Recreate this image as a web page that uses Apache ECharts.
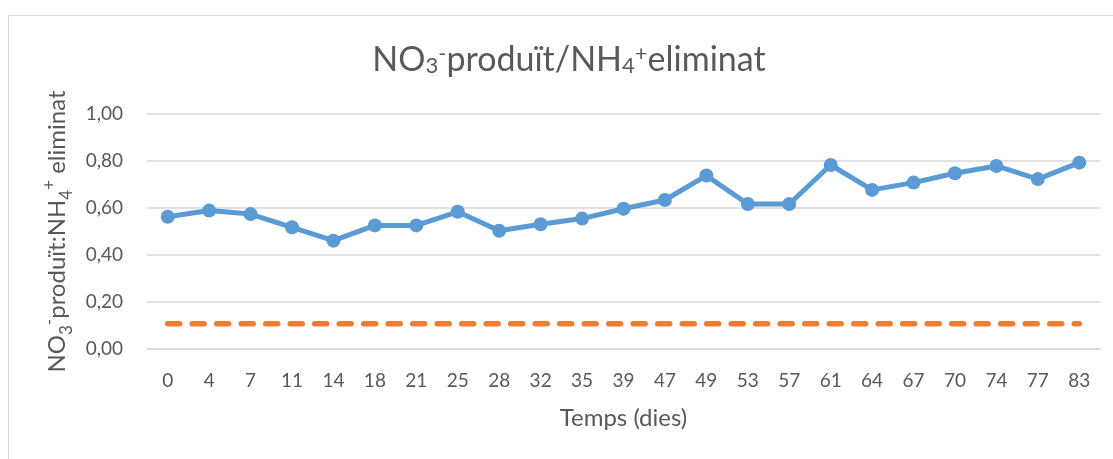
<!DOCTYPE html>
<html>
<head>
<meta charset="utf-8">
<script src="https://cdn.jsdelivr.net/npm/echarts@6/dist/echarts.min.js"></script>
<style>html,body{margin:0;padding:0;background:#fff}#c{width:1113px;height:459px}</style>
</head>
<body>
<div id="c"></div>
<script>
var days = ['0','4','7','11','14','18','21','25','28','32','35','39','47','49','53','57','61','64','67','70','74','77','83'];
var ratio = [0.563,0.589,0.574,0.518,0.461,0.526,0.526,0.584,0.503,0.531,0.555,0.597,0.634,0.738,0.617,0.617,0.783,0.677,0.708,0.748,0.779,0.723,0.793];
var reference = [0.107,0.107,0.107,0.107,0.107,0.107,0.107,0.107,0.107,0.107,0.107,0.107,0.107,0.107,0.107,0.107,0.107,0.107,0.107,0.107,0.107,0.107,0.107];
var yTicks = [0, 0.2, 0.4, 0.6, 0.8, 1.0];

var FONT = 'Lato';
var TXT = '#595959';
var chart = echarts.init(document.getElementById('c'), null, {renderer: 'canvas'});
chart.setOption({
  animation: false,
  backgroundColor: '#fff',
  graphic: [
    {type: 'rect', shape: {x: 8.5, y: 15.5, width: 1200, height: 600}, style: {fill: 'none', stroke: '#d9d9d9', lineWidth: 1}, silent: true},
    {type: 'text', x: 569, y: 60, style: {
      text: 'NO{sub|3}{sup|-}produït/NH{sub|4}{sup|+}eliminat',
      align: 'center', verticalAlign: 'middle',
      fill: TXT, font: '34px ' + FONT,
      rich: {
        sub: {fontSize: 22, fontFamily: FONT, fill: TXT, verticalAlign: 'bottom', lineHeight: 22},
        sup: {fontSize: 22, fontFamily: FONT, fill: TXT, verticalAlign: 'top', lineHeight: 22}
      }
    }}
  ],
  grid: {left: 147, right: 13, top: 114, bottom: 110, containLabel: false},
  xAxis: {
    type: 'category', data: days, boundaryGap: true,
    name: 'Temps (dies)', nameLocation: 'middle', nameGap: 57,
    nameTextStyle: {color: TXT, fontSize: 24, fontFamily: FONT},
    axisLine: {lineStyle: {color: '#d9d9d9', width: 1.5}},
    axisTick: {show: false},
    axisLabel: {color: TXT, fontSize: 19, fontFamily: FONT, margin: 22, interval: 0}
  },
  yAxis: {
    type: 'value', min: 0, max: 1, interval: 0.2,
    name: '{m|NO}{sub|3}{sup|-}{m|produït:NH}{sub|4}{sup|+}{m| eliminat}', nameLocation: 'middle', nameGap: 72, nameRotate: 90,
    nameTextStyle: {color: TXT, fontSize: 24, fontFamily: FONT, lineHeight: 34,
      rich: {
        m: {fontSize: 24, fontFamily: FONT, color: TXT, lineHeight: 34, verticalAlign: 'middle'},
        sub: {fontSize: 17, fontFamily: FONT, color: TXT, verticalAlign: 'bottom', lineHeight: 17},
        sup: {fontSize: 17, fontFamily: FONT, color: TXT, verticalAlign: 'top', lineHeight: 17}
      }
    },
    axisLine: {show: false},
    axisTick: {show: false},
    splitLine: {lineStyle: {color: '#d9d9d9', width: 1.5}},
    axisLabel: {color: TXT, fontSize: 19, fontFamily: FONT, margin: 24,
      formatter: function (v) { return v.toFixed(2).replace('.', ','); }}
  },
  series: [
    {type: 'line', data: ratio, symbol: 'circle', symbolSize: 14,
      lineStyle: {color: '#5b9bd5', width: 5}, itemStyle: {color: '#5b9bd5'}, z: 3},
    {type: 'line', data: reference, symbol: 'none',
      lineStyle: {color: '#ed7d31', width: 5.5, type: [12, 12.5], cap: 'round'}, z: 2}
  ]
});
</script>
</body>
</html>
